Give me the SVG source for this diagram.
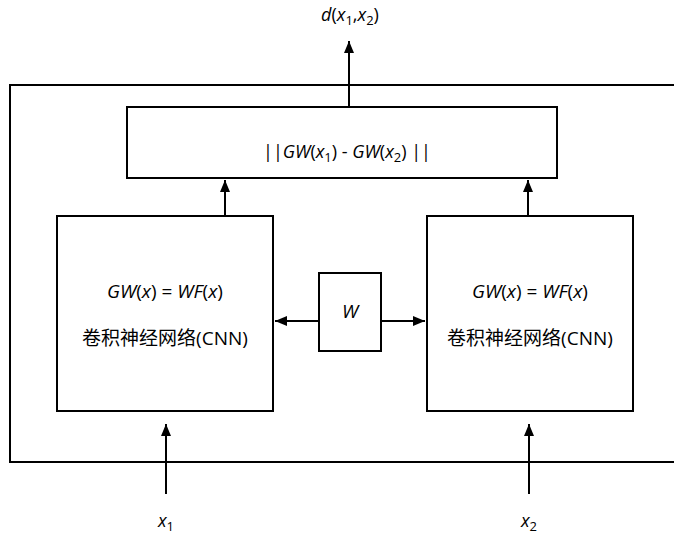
<svg xmlns="http://www.w3.org/2000/svg" width="674" height="537" viewBox="0 0 674 537">
<style>
.box{fill:#fff;stroke:#000;stroke-width:2}
.ln{stroke:#000;stroke-width:2;fill:none}
text{font-family:"Open Sans","Liberation Sans","Noto Sans CJK SC",sans-serif;fill:#000;text-anchor:middle}
.it{font-style:italic}
.f{font-size:18px}
.g{font-size:19px}
.c{font-size:19px}
.s{font-size:13px;font-style:normal}
</style>
<defs>
<marker id="ah" viewBox="0 0 12 10" refX="12" refY="5" markerWidth="6" markerHeight="5" markerUnits="strokeWidth" orient="auto">
<path d="M0,0 L12,5 L0,10 z" fill="#000"/>
</marker>
</defs>
<g id="outer"><rect class="box" x="10" y="85" width="700" height="377"/></g>
<g id="dist">
<rect class="box" x="127" y="107" width="430" height="71"/>
<text class="f" x="347" y="158">||<tspan class="it">GW</tspan>(<tspan class="it">x</tspan><tspan class="s" dy="4">1</tspan><tspan dy="-4">) - </tspan><tspan class="it">GW</tspan>(<tspan class="it">x</tspan><tspan class="s" dy="4">2</tspan><tspan dy="-4">) ||</tspan></text>
</g>
<g id="cnn1">
<rect class="box" x="57" y="216" width="216" height="195"/>
<text class="g" x="165" y="298"><tspan class="it">GW</tspan>(<tspan class="it">x</tspan>) = <tspan class="it">WF</tspan>(<tspan class="it">x</tspan>)</text>
<text class="c" x="165" y="345">卷积神经网络(CNN)</text>
</g>
<g id="cnn2">
<rect class="box" x="427" y="216" width="206" height="195"/>
<text class="g" x="530" y="298"><tspan class="it">GW</tspan>(<tspan class="it">x</tspan>) = <tspan class="it">WF</tspan>(<tspan class="it">x</tspan>)</text>
<text class="c" x="530" y="345">卷积神经网络(CNN)</text>
</g>
<g id="w">
<rect class="box" x="319" y="273" width="62" height="78"/>
<text class="g it" x="350" y="318">W</text>
</g>
<g id="out"><text class="f it" x="350" y="21">d<tspan style="font-style:normal">(</tspan>x<tspan class="s" dy="4">1</tspan><tspan dy="-4" style="font-style:normal">,</tspan>x<tspan class="s" dy="4">2</tspan><tspan dy="-4" style="font-style:normal">)</tspan></text></g>
<g id="in1"><text class="f it" x="166" y="527">x<tspan class="s" dy="4">1</tspan></text></g>
<g id="in2"><text class="f it" x="529" y="527">x<tspan class="s" dy="4">2</tspan></text></g>
<g id="connectors">
<line class="ln" x1="349" y1="107" x2="349" y2="41" marker-end="url(#ah)"/>
<line class="ln" x1="225" y1="216" x2="225" y2="180" marker-end="url(#ah)"/>
<line class="ln" x1="528" y1="216" x2="528" y2="180" marker-end="url(#ah)"/>
<line class="ln" x1="319" y1="321" x2="275" y2="321" marker-end="url(#ah)"/>
<line class="ln" x1="381" y1="321" x2="425" y2="321" marker-end="url(#ah)"/>
<line class="ln" x1="166" y1="494" x2="166" y2="424" marker-end="url(#ah)"/>
<line class="ln" x1="529" y1="494" x2="529" y2="424" marker-end="url(#ah)"/>
</g>
</svg>
